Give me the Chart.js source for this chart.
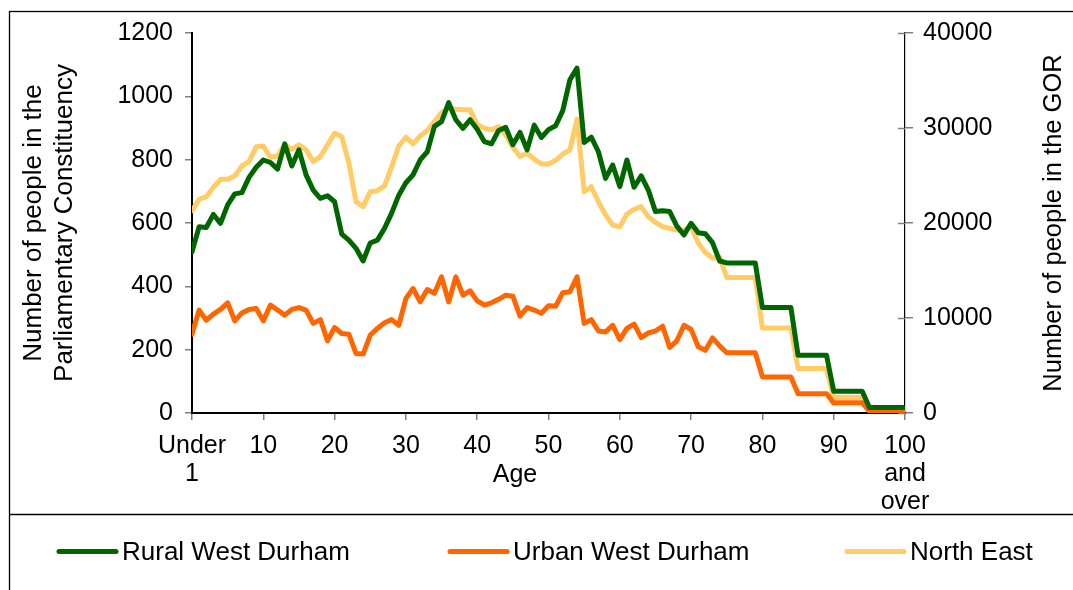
<!DOCTYPE html>
<html>
<head>
<meta charset="utf-8">
<title>Population by single year of age</title>
<script src="https://cdn.jsdelivr.net/npm/chart.js@4"></script>
<style>
  html, body { margin: 0; padding: 0; background: #fff; }
  canvas { display: block; }
</style>
</head>
<body>
<canvas id="ageChart" width="1073" height="590"></canvas>
<script>
// single years of age, 0 = "Under 1", 100 = "100 and over"
const ages = [
    0, 1, 2, 3, 4, 5, 6, 7, 8, 9, 10, 11, 12, 13, 14, 15, 16, 17, 18, 19,
    20, 21, 22, 23, 24, 25, 26, 27, 28, 29, 30, 31, 32, 33, 34, 35, 36, 37, 38, 39,
    40, 41, 42, 43, 44, 45, 46, 47, 48, 49, 50, 51, 52, 53, 54, 55, 56, 57, 58, 59,
    60, 61, 62, 63, 64, 65, 66, 67, 68, 69, 70, 71, 72, 73, 74, 75, 76, 77, 78, 79,
    80, 81, 82, 83, 84, 85, 86, 87, 88, 89, 90, 91, 92, 93, 94, 95, 96, 97, 98, 99, 100
];

const ageTicks = [0, 10, 20, 30, 40, 50, 60, 70, 80, 90, 100];
const ageTickLabels = [['Under', '1'], '10', '20', '30', '40', '50', '60', '70', '80', '90', ['100', 'and', 'over']];

// Parliamentary constituency (left axis)
const ruralWestDurham = [
    509, 588, 586, 627, 599, 657, 692, 696, 744, 776,
    799, 791, 770, 850, 780, 831, 752, 704, 678, 686,
    667, 565, 546, 520, 480, 537, 546, 583, 631, 688,
    727, 752, 799, 825, 905, 920, 980, 926, 899, 926,
    896, 857, 850, 892, 902, 847, 886, 831, 909, 870,
    895, 907, 955, 1052, 1089, 854, 871, 825, 741, 783,
    715, 799, 713, 749, 704, 636, 639, 636, 590, 562,
    599, 569, 566, 538, 480, 474, 474, 474, 474, 474,
    333, 333, 333, 333, 333, 182, 182, 182, 182, 182,
    69, 69, 69, 69, 69, 17, 17, 17, 17, 17, 17
];

const urbanWestDurham = [
    249, 325, 293, 312, 327, 348, 291, 316, 327, 330,
    291, 341, 325, 309, 327, 333, 325, 283, 295, 228,
    270, 251, 249, 188, 186, 246, 267, 285, 295, 277,
    362, 393, 351, 390, 378, 430, 351, 430, 372, 386,
    354, 341, 348, 359, 372, 369, 306, 333, 325, 315,
    339, 337, 380, 383, 430, 283, 295, 259, 256, 277,
    232, 267, 281, 238, 253, 259, 274, 207, 228, 277,
    264, 209, 198, 237, 212, 190, 190, 190, 190, 190,
    114, 114, 114, 114, 114, 61, 61, 61, 61, 61,
    32, 32, 32, 32, 32, 6, 6, 6, 6, 6, 6
];

// Government Office Region (right axis)
const northEast = [
    21300, 22500, 22770, 23760, 24600, 24600, 24950, 26000, 26460, 28040,
    28100, 26920, 27060, 28220, 27760, 28220, 27700, 26460, 26990, 28220,
    29450, 29100, 26300, 22240, 21720, 23300, 23400, 23900, 25930, 28100,
    29030, 28330, 29170, 29730, 30670, 31620, 32090, 31980, 31910, 31910,
    30330, 29980, 29800, 30150, 29270, 27980, 26990, 27340, 26710, 26220,
    26200, 26600, 27250, 27700, 30930, 23300, 23820, 22240, 20840, 19790,
    19610, 20950, 21440, 21720, 20660, 20070, 19610, 19440, 19260, 19260,
    19610, 17900, 16900, 16300, 16400, 14270, 14270, 14270, 14270, 14270,
    8960, 8960, 8960, 8960, 8960, 4680, 4680, 4680, 4680, 4680,
    1620, 1620, 1620, 1620, 1620, 360, 360, 360, 360, 360, 360
];

const FONT = "'Liberation Sans', Arial, sans-serif";
Chart.defaults.font.family = FONT;
Chart.defaults.font.size = 25;
Chart.defaults.color = '#000';

const toPoints = values => ages.map((age, i) => ({ x: age, y: values[i] }));

// frame, right title, x title and legend the way the original sheet lays them out
const sheetDecor = {
    id: 'sheetDecor',
    beforeDraw(chart) {
        const { ctx, width, height } = chart;
        ctx.save();
        ctx.fillStyle = '#fff';
        ctx.fillRect(0, 0, width, height);
        ctx.strokeStyle = '#000';
        ctx.lineWidth = 1.3;
        ctx.strokeRect(9.5, 11.5, width + 20, height + 20);
        ctx.beginPath();
        ctx.moveTo(9.5, 514.5);
        ctx.lineTo(width, 514.5);
        ctx.stroke();
        ctx.restore();
    },
    afterDraw(chart) {
        const { ctx, chartArea } = chart;
        const y2 = chart.scales.y2;
        ctx.save();

        // right axis ticks cross the axis line
        ctx.strokeStyle = '#808080';
        ctx.lineWidth = 1.5;
        y2.ticks.forEach(t => {
            const py = Math.round(y2.getPixelForValue(t.value)) + 0.5;
            ctx.beginPath();
            ctx.moveTo(chartArea.right - 7, py);
            ctx.lineTo(chartArea.right, py);
            ctx.stroke();
        });

        ctx.fillStyle = '#000';

        // right axis title reads bottom to top
        ctx.save();
        ctx.font = `25.5px ${FONT}`;
        ctx.translate(1054, (chartArea.top + chartArea.bottom) / 2);
        ctx.rotate(-Math.PI / 2);
        ctx.textAlign = 'center';
        ctx.textBaseline = 'middle';
        ctx.fillText('Number of people in the GOR', 0, 0);
        ctx.restore();

        ctx.font = `25px ${FONT}`;
        ctx.textAlign = 'center';
        ctx.textBaseline = 'alphabetic';
        ctx.fillText('Age', 515, 482);

        // legend
        const legendX = [59, 450, 847];
        ctx.font = `26px ${FONT}`;
        ctx.textAlign = 'left';
        ctx.textBaseline = 'middle';
        chart.data.datasets.forEach((ds, i) => {
            const x = legendX[i];
            ctx.strokeStyle = ds.borderColor;
            ctx.lineWidth = 5;
            ctx.lineCap = 'round';
            ctx.beginPath();
            ctx.moveTo(x, 551.5);
            ctx.lineTo(x + 57, 551.5);
            ctx.stroke();
            ctx.fillText(ds.label, x + 63, 553);
        });
        ctx.restore();
    }
};

new Chart(document.getElementById('ageChart'), {
    type: 'line',
    data: {
        datasets: [
            { label: 'Rural West Durham', data: toPoints(ruralWestDurham), yAxisID: 'y', borderColor: '#006600', borderWidth: 5 },
            { label: 'Urban West Durham', data: toPoints(urbanWestDurham), yAxisID: 'y', borderColor: '#ff6600', borderWidth: 5 },
            { label: 'North East', data: toPoints(northEast), yAxisID: 'y2', borderColor: '#ffcc66', borderWidth: 5 }
        ]
    },
    options: {
        responsive: false,
        animation: false,
        events: [],
        layout: { padding: { top: 33, left: 0, right: 0, bottom: 76 } },
        elements: {
            point: { radius: 0 },
            line: { tension: 0, fill: false, borderJoinStyle: 'round', borderCapStyle: 'round' }
        },
        plugins: { legend: { display: false }, tooltip: { enabled: false } },
        scales: {
            x: {
                type: 'linear',
                min: 0, max: 100,
                offset: false,
                afterBuildTicks: s => { s.ticks = ageTicks.map(v => ({ value: v })); },
                afterFit: s => { s.height = 101; },
                ticks: {
                    autoSkip: false, maxRotation: 0, padding: 12,
                    font: { size: 25, lineHeight: 1.12 },
                    callback: v => ageTickLabels[ageTicks.indexOf(v)]
                },
                grid: { drawOnChartArea: false, tickLength: 7, color: '#808080', lineWidth: 1.5 },
                border: { color: '#000', width: 2 }
            },
            y: {
                position: 'left',
                min: 0, max: 1200,
                afterFit: s => { s.width = 192; },
                ticks: { stepSize: 200, padding: 12, callback: v => String(v) },
                grid: { drawOnChartArea: false, tickLength: 7, color: '#808080', lineWidth: 1.5 },
                border: { color: '#000', width: 2 },
                title: {
                    display: true,
                    text: ['Number of people in the', 'Parliamentary Constituency'],
                    font: { size: 26, lineHeight: 1.2 },
                    padding: { top: 18, bottom: 0 }
                }
            },
            y2: {
                position: 'right',
                min: 0, max: 40000,
                afterFit: s => { s.width = 168; },
                ticks: { stepSize: 10000, padding: 10, callback: v => String(v) },
                grid: { drawOnChartArea: false, tickLength: 8, color: '#808080', lineWidth: 1.5 },
                border: { color: '#000', width: 1.2 }
            }
        }
    },
    plugins: [sheetDecor]
});
</script>
</body>
</html>
